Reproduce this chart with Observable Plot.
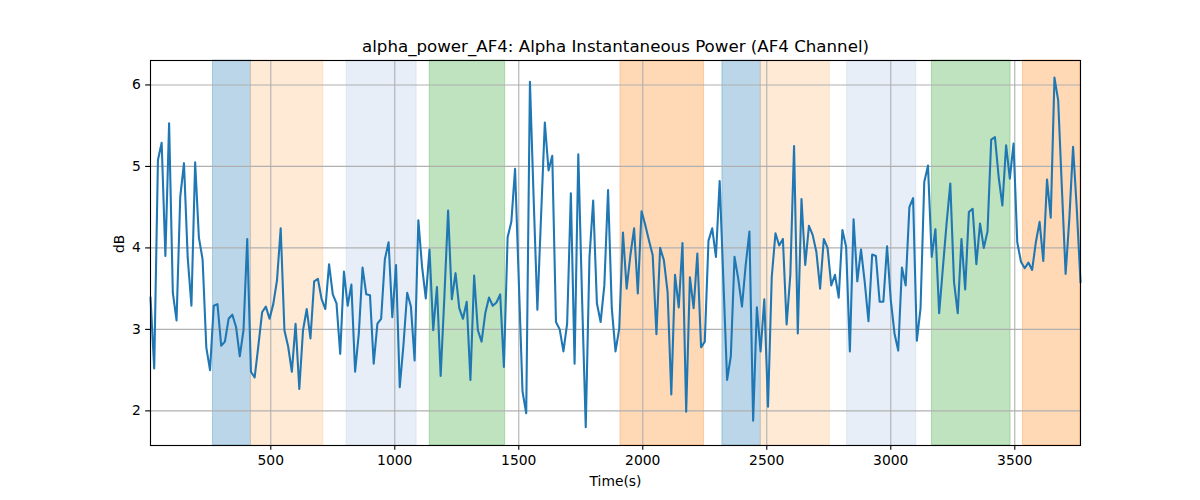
<!DOCTYPE html>
<html>
<head>
<meta charset="utf-8">
<script src="https://cdn.jsdelivr.net/npm/d3@7"></script>
<script src="https://cdn.jsdelivr.net/npm/@observablehq/plot@0.6"></script>
<style>
  html, body { margin: 0; padding: 0; background: #ffffff; }
  #chart { width: 1200px; height: 500px; }
</style>
</head>
<body>
<div id="chart"></div>
<script>
const title = "alpha_power_AF4: Alpha Instantaneous Power (AF4 Channel)";
const xLabel = "Time(s)";
const yLabel = "dB";
const xTicks = [500, 1000, 1500, 2000, 2500, 3000, 3500];
const yTicks = [2, 3, 4, 5, 6];

const time = [
  15,30,45,60,75,90,105,120,135,150,
  165,180,195,210,225,240,255,270,285,300,
  315,330,345,360,375,390,405,420,435,450,
  465,480,495,510,525,540,555,570,585,600,
  615,630,645,660,675,690,705,720,735,750,
  765,780,795,810,825,840,855,870,885,900,
  915,930,945,960,975,990,1005,1020,1035,1050,
  1065,1080,1095,1110,1125,1140,1155,1170,1185,1200,
  1215,1230,1245,1260,1275,1290,1305,1320,1335,1350,
  1365,1380,1395,1410,1425,1440,1455,1470,1485,1500,
  1515,1530,1545,1560,1575,1590,1605,1620,1635,1650,
  1665,1680,1695,1710,1725,1740,1755,1770,1785,1800,
  1815,1830,1845,1860,1875,1890,1905,1920,1935,1950,
  1965,1980,1995,2010,2025,2040,2055,2070,2085,2100,
  2115,2130,2145,2160,2175,2190,2205,2220,2235,2250,
  2265,2280,2295,2310,2325,2340,2355,2370,2385,2400,
  2415,2430,2445,2460,2475,2490,2505,2520,2535,2550,
  2565,2580,2595,2610,2625,2640,2655,2670,2685,2700,
  2715,2730,2745,2760,2775,2790,2805,2820,2835,2850,
  2865,2880,2895,2910,2925,2940,2955,2970,2985,3000,
  3015,3030,3045,3060,3075,3090,3105,3120,3135,3150,
  3165,3180,3195,3210,3225,3240,3255,3270,3285,3300,
  3315,3330,3345,3360,3375,3390,3405,3420,3435,3450,
  3465,3480,3495,3510,3525,3540,3555,3570,3585,3600,
  3615,3630,3645,3660,3675,3690,3705,3720,3735,3750,
  3765
];

const power = [
  3.39,2.52,5.08,5.29,3.90,5.53,3.45,3.11,4.63,5.04,
  3.88,3.29,5.05,4.13,3.86,2.78,2.50,3.29,3.31,2.80,
  2.85,3.13,3.18,3.03,2.67,2.99,4.11,2.48,2.41,2.80,
  3.21,3.28,3.13,3.31,3.60,4.24,2.99,2.79,2.48,3.07,
  2.27,2.99,3.25,2.89,3.59,3.62,3.37,3.25,3.80,3.43,
  3.32,2.70,3.71,3.29,3.55,2.48,2.95,3.76,3.43,3.42,
  2.58,3.07,3.13,3.86,4.07,3.15,3.79,2.29,2.81,3.45,
  3.28,2.62,4.34,3.77,3.38,3.98,2.99,3.52,2.43,3.40,
  4.46,3.37,3.69,3.26,3.13,3.34,2.38,3.66,2.99,2.85,
  3.20,3.39,3.29,3.33,3.43,2.54,4.13,4.32,4.97,3.60,
  2.24,1.97,6.04,4.60,3.24,4.40,5.54,4.95,5.13,3.09,
  3.00,2.73,3.07,4.67,2.58,5.15,3.40,1.80,3.88,4.58,
  3.32,3.09,3.54,4.71,3.26,2.73,3.01,4.19,3.50,3.91,
  4.24,3.44,4.45,4.28,4.09,3.91,2.94,4.00,3.85,3.46,
  2.20,3.67,3.27,4.06,1.99,3.64,3.26,3.93,2.78,2.85,
  4.09,4.24,3.89,4.82,3.60,2.38,2.67,3.89,3.62,3.28,
  3.79,4.20,1.88,3.27,2.73,3.37,2.05,3.64,4.18,4.03,
  4.11,3.06,3.67,5.25,2.95,4.60,3.79,4.27,4.16,3.95,
  3.50,4.11,4.00,3.54,3.67,3.39,4.22,4.01,2.73,4.35,
  3.59,3.98,3.58,3.10,3.92,3.90,3.34,3.34,4.02,3.36,
  2.95,2.74,3.76,3.54,4.50,4.61,2.86,3.26,4.81,5.01,
  3.89,4.23,3.20,3.75,4.30,4.79,3.58,3.20,4.11,3.49,
  4.44,4.48,3.80,4.30,4.00,4.20,5.33,5.36,4.87,4.52,
  5.26,4.85,5.28,4.07,3.83,3.75,3.82,3.73,4.07,4.32,
  3.84,4.84,4.37,6.09,5.81,4.73,3.68,4.36,5.24,4.48,
  3.58
];

// shaded intervals (seconds) and their category index
const bandStart = [267, 420, 806, 1141, 1910, 2321, 2476, 2824, 3166, 3533];
const bandEnd   = [420, 712, 1088, 1445, 2247, 2476, 2754, 3103, 3483, 3765];
const bandKind  = [0, 1, 2, 3, 4, 0, 1, 2, 3, 4];

const bandPalette = ["#1f77b4", "#ffbb78", "#aec7e8", "#2ca02c", "#ff7f0e"];

const series = time.map((t, i) => ({t, v: power[i]}));
const bands = bandStart.map((s, i) => ({start: s, end: bandEnd[i], kind: bandKind[i]}));

const pt = 100 / 72;
const fs = 10 * pt;

const chart = Plot.plot({
  width: 1200,
  height: 500,
  marginLeft: 150,
  marginRight: 120,
  marginTop: 60,
  marginBottom: 55,
  style: {fontFamily: "'DejaVu Sans', sans-serif", fontSize: fs + "px", background: "#ffffff", color: "#000000"},
  x: {domain: [15, 3765]},
  y: {domain: [1.575, 6.3]},
  color: {type: "ordinal", domain: [0, 1, 2, 3, 4], range: bandPalette},
  marks: [
    Plot.rect(bands, {x1: "start", x2: "end", fill: "kind", fillOpacity: 0.3, stroke: "kind", strokeOpacity: 0.3, strokeWidth: 1}),
    Plot.gridX({ticks: xTicks, stroke: "#b0b0b0", strokeOpacity: 1, strokeWidth: 0.8 * pt}),
    Plot.gridY({ticks: yTicks, stroke: "#b0b0b0", strokeOpacity: 1, strokeWidth: 0.8 * pt}),
    Plot.line(series, {x: "t", y: "v", stroke: "#1f77b4", strokeWidth: 1.5 * pt, strokeLinejoin: "round", strokeLinecap: "square"}),
    Plot.frame({stroke: "#000000", strokeWidth: 0.8 * pt}),
    Plot.axisX({ticks: xTicks, tickSize: 3.5 * pt, tickPadding: 3.5 * pt, tickFormat: d => String(d), fontSize: fs, label: null, strokeWidth: 0.8 * pt}),
    Plot.axisY({ticks: yTicks, tickSize: 3.5 * pt, tickPadding: 3.5 * pt, tickFormat: d => String(d), fontSize: fs, label: null, strokeWidth: 0.8 * pt}),
    Plot.text([title], {text: d => d, frameAnchor: "top", dy: -14, lineAnchor: "middle", fontSize: 12 * pt}),
    Plot.text([xLabel], {text: d => d, frameAnchor: "bottom", dy: 36, lineAnchor: "middle", fontSize: fs}),
    Plot.text([yLabel], {text: d => d, frameAnchor: "left", dx: -31, rotate: -90, lineAnchor: "middle", fontSize: fs})
  ]
});

document.getElementById("chart").appendChild(chart);
</script>
</body>
</html>
